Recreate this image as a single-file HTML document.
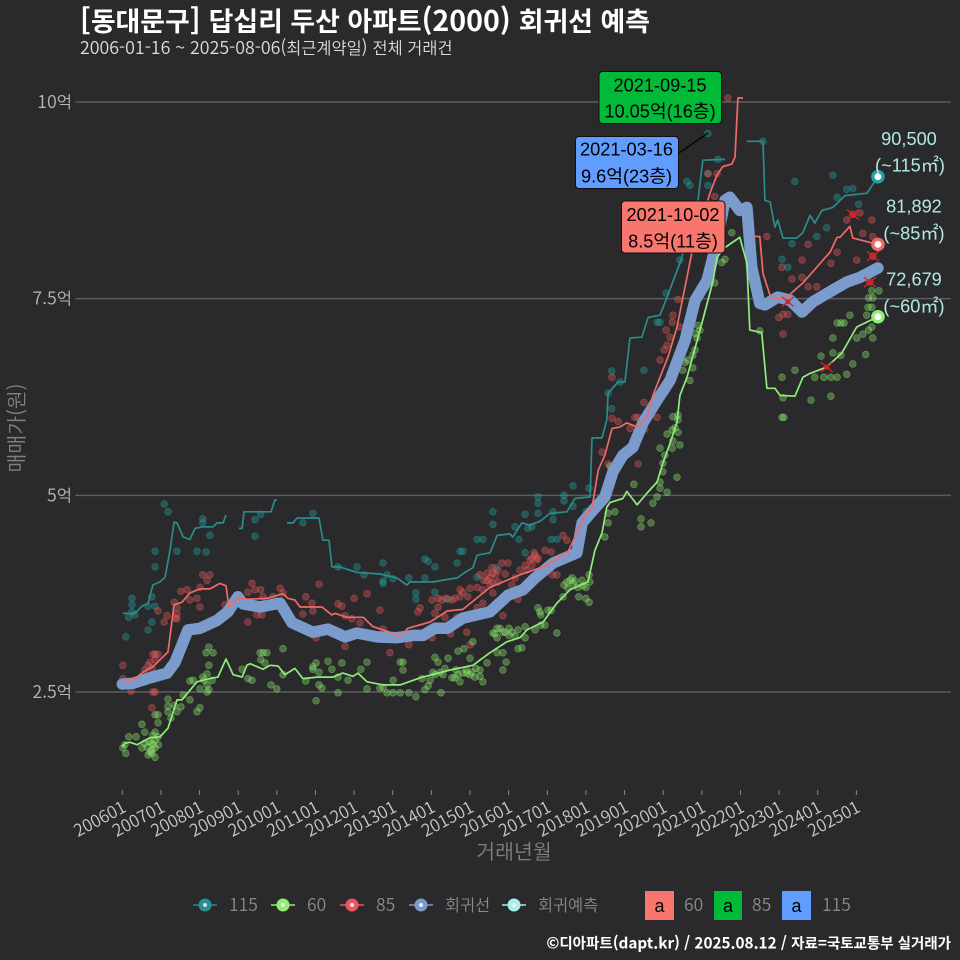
<!DOCTYPE html>
<html lang="ko">
<head>
<meta charset="utf-8">
<title>답십리 두산 아파트 회귀선 예측</title>
<style>
html,body{margin:0;padding:0;background:#2a2a2c;}
svg{display:block;}
text{font-family:"Noto Sans CJK KR","NanumGothic","Liberation Sans",sans-serif;}
.box-text{font-family:"Liberation Sans","Noto Sans CJK KR",sans-serif;font-size:18.2px;fill:#000;text-anchor:middle;}
.end-label{font-family:"Liberation Sans","Noto Sans CJK KR",sans-serif;font-size:18.2px;fill:#b2e8e2;text-anchor:middle;}
.legend-text{font-size:17.5px;fill:#8a8a8a;font-weight:350;}
.legend-hangul{font-size:16.4px;fill:#8a8a8a;font-weight:350;}
.a-glyph{font-family:"Liberation Sans",sans-serif;font-size:18px;fill:#000;text-anchor:middle;}
</style>
</head>
<body>
<svg id="chart" xmlns="http://www.w3.org/2000/svg" width="960" height="960" viewBox="0 0 960 960">
  <rect x="0" y="0" width="960" height="960" fill="#2a2a2c"/>
  <text x="80" y="31" font-size="28.6" font-weight="700" fill="#ffffff">[<tspan font-size="26.9">동대문구</tspan>] <tspan font-size="26.9">답십리 두산 아파트</tspan>(2000) <tspan font-size="26.9">회귀선 예측</tspan></text>
  <text x="80" y="54" font-size="17.8" font-weight="350" fill="#dddddd">2006-01-16 ~ 2025-08-06(<tspan font-size="16.4">최근계약일</tspan>) <tspan font-size="16.4">전체 거래건</tspan></text>
  <g id="grid"></g>
  <g id="xaxis"></g>
  <g id="yaxis"></g>
  <g id="points"></g>
  <g id="lines"></g>
  <g id="marks"></g>
  <text transform="translate(24,428) rotate(-90)" text-anchor="middle" font-size="20.5" font-weight="350" fill="#808080">매매가(원)</text>
  <text x="514" y="859" text-anchor="middle" font-size="20.5" font-weight="350" fill="#808080">거래년월</text>

  <g>
    <line id="leader" x1="679" y1="153" x2="708" y2="133" stroke="#000" stroke-width="1.3"/>
    <rect x="575.5" y="136.5" width="103" height="52" rx="3.5" fill="#619cff" stroke="#111" stroke-width="1"/>
    <text class="box-text" x="626.5" y="155.5">2021-03-16</text>
    <text class="box-text" x="626.5" y="182.5">9.6억(23층)</text>
  </g>
  <g>
    <rect x="599" y="71.5" width="122.5" height="52" rx="3.5" fill="#00ba38" stroke="#111" stroke-width="1"/>
    <text class="box-text" x="660" y="91.5">2021-09-15</text>
    <text class="box-text" x="660" y="117.5">10.05억(16층)</text>
  </g>
  <g>
    <rect x="621.5" y="201" width="103.5" height="52" rx="3.5" fill="#f8766d" stroke="#111" stroke-width="1"/>
    <text class="box-text" x="673" y="221">2021-10-02</text>
    <text class="box-text" x="673" y="247.5">8.5억(11층)</text>
  </g>

  <text class="end-label" x="909" y="145">90,500</text>
  <text class="end-label" x="910" y="171.5">(~115㎡)</text>
  <text class="end-label" x="914" y="212.5">81,892</text>
  <text class="end-label" x="914" y="239.5">(~85㎡)</text>
  <text class="end-label" x="914" y="285.5">72,679</text>
  <text class="end-label" x="914" y="312.5">(~60㎡)</text>

  <g id="legend">
    <g>
      <line x1="193" y1="905" x2="217" y2="905" stroke="#2a8a8a" stroke-width="1.5"/><circle cx="205" cy="905" r="6.5" fill="#2a8f8f"/><circle cx="205" cy="905" r="2" fill="#ddd"/>
      <text class="legend-text" x="229" y="911">115</text>
    </g>
    <g>
      <line x1="271" y1="905" x2="295" y2="905" stroke="#90ee70" stroke-width="1.5"/><circle cx="283" cy="905" r="6.5" fill="#90ee70"/><circle cx="283" cy="905" r="2" fill="#eee"/>
      <text class="legend-text" x="307" y="911">60</text>
    </g>
    <g>
      <line x1="340" y1="905" x2="364" y2="905" stroke="#ee5560" stroke-width="1.5"/><circle cx="352" cy="905" r="6.5" fill="#ee5560"/><circle cx="352" cy="905" r="2" fill="#eee"/>
      <text class="legend-text" x="376" y="911">85</text>
    </g>
    <g>
      <line x1="409" y1="905" x2="433" y2="905" stroke="#7a9bcc" stroke-width="1.5"/><circle cx="421" cy="905" r="6.5" fill="#7a9bcc"/><circle cx="421" cy="905" r="2" fill="#eee"/>
      <text class="legend-hangul" x="445" y="911">회귀선</text>
    </g>
    <g>
      <line x1="502" y1="905" x2="526" y2="905" stroke="#aaf0ea" stroke-width="1.5"/><circle cx="514" cy="905" r="6.5" fill="#aaf0ea"/><circle cx="514" cy="905" r="2" fill="#eee"/>
      <text class="legend-hangul" x="538" y="911">회귀예측</text>
    </g>
    <g>
      <rect x="645" y="891" width="29" height="29" fill="#f8766d"/>
      <text class="a-glyph" x="659.5" y="912">a</text>
      <text class="legend-text" x="684" y="911">60</text>
    </g>
    <g>
      <rect x="714" y="891" width="28" height="29" fill="#00ba38"/>
      <text class="a-glyph" x="728" y="912">a</text>
      <text class="legend-text" x="752" y="911">85</text>
    </g>
    <g>
      <rect x="782" y="891" width="29" height="29" fill="#619cff"/>
      <text class="a-glyph" x="796.5" y="912">a</text>
      <text class="legend-text" x="822" y="911">115</text>
    </g>
  </g>
  <text x="951" y="948.3" text-anchor="end" font-size="15.3" font-weight="700" fill="#ffffff">©<tspan font-size="14.5">디아파트</tspan>(dapt.kr) / 2025.08.12 / <tspan font-size="14.5">자료</tspan>=<tspan font-size="14.5">국토교통부 실거래가</tspan></text>
</svg>
<script>
// tick data
const xTickLabels = ["200601","200701","200801","200901","201001","201101","201201","201301","201401","201501","201601","201701","201801","201901","202001","202101","202201","202301","202401","202501"];
const yTickValues = [2.5,5,7.5,10];
const yTickLabels = ["2.5억","5억","7.5억","10억"];

// regression line (month offset from 200601, price in 억)
const regressionMonths = [0,3.3,8.6,13.9,16.4,20.4,24.1,29.4,32.8,35.9,37.5,42.8,49,52.7,59.2,63.9,69.2,72.9,79.1,85.3,90.3,93.4,97.1,100.9,105.8,114.2,119.8,124.5,128.2,133.8,141.2,142.8,146.2,149.9,152.4,155.5,158.6,161.7,166.1,170.1,174.8,177.9,181.6,183.5,185.6,187.2,188.7,191.8,194,195.5,198,199.6,203.6,207.4,211.1,214.5,220.7,225,229.1,234.7];
const regressionValues = [2.60,2.61,2.68,2.74,2.88,3.29,3.31,3.41,3.52,3.71,3.62,3.58,3.63,3.38,3.26,3.30,3.20,3.25,3.20,3.19,3.22,3.22,3.31,3.31,3.44,3.52,3.73,3.80,3.95,4.14,4.27,4.65,4.81,4.98,5.30,5.51,5.61,5.92,6.21,6.46,6.97,7.48,7.73,8.03,8.43,8.75,8.79,8.62,8.66,7.90,7.44,7.42,7.52,7.48,7.33,7.46,7.61,7.71,7.77,7.89];

// 115㎡ series (null = gap)
const line115Months = [0.2,3.9,6.1,8,9.5,11.7,13.3,14.8,16.1,17,18.9,21,22.6,24.8,28.2,29.4,31.3,32.2,null,36.2,37.2,37.8,46.2,47.4,48,null,51.2,53,54.3,61.1,62.3,64.2,65.1,67.6,72.9,80,85.3,88.4,89.4,96.5,104,106.4,108.9,110.2,114.2,116.4,120.4,121.3,124.1,126.6,129.7,132.8,138.1,140.6,145.3,145.9,149,150.5,150.9,154,156.1,157.7,161.4,163.3,167,169.2,173.2,175.4,178.8,180.3,187.2,null,194,199,199.6,201.2,202.7,203.6,205.2,209.5,211.4,213.6,215.1,217.3,220.7,224.5,231.3,234.7];
const line115Values = [3.50,3.50,3.59,3.63,3.86,3.90,3.96,4.30,4.66,4.65,4.47,4.44,4.58,4.60,4.60,4.65,4.65,4.75,null,4.58,4.58,4.79,4.79,4.94,4.94,null,4.65,4.65,4.71,4.71,4.43,4.43,4.09,4.09,4.02,4.00,3.95,3.86,3.90,3.90,3.95,4.02,4.08,4.24,4.27,4.49,4.51,4.47,4.65,4.62,4.67,4.77,4.79,4.96,4.98,5.73,5.73,5.96,6.30,6.44,6.44,7.00,7.01,7.26,7.29,7.52,7.95,8.24,8.75,9.26,9.27,null,9.50,9.50,8.75,8.73,8.41,8.50,8.27,8.27,8.34,8.56,8.46,8.62,8.66,8.81,8.84,9.05];

// 85㎡ series
const line85Months = [0.2,3.3,6.4,9.5,14.2,16.1,18.5,21,24.1,27.2,30.3,32.2,33.1,35.6,38.7,44.9,49.9,51.5,53.6,55.2,62,65.1,66.1,69.8,74.8,77.9,81,83.1,86.3,88.7,95.6,100.9,105.8,114.2,123.5,131.9,138.4,141.2,143.7,145.9,147.8,149.9,152.1,154.6,156.7,159.9,163,164.8,169.5,172.3,176.9,182.5,184.7,186.5,189.3,190.3,191.2,192.8,null,195.9,198,199,201.2,202.1,206.4,211.4,219.8,222,222.9,226,226.9,234.7];
const line85Values = [2.65,2.65,2.75,2.82,3.01,3.61,3.64,3.76,3.81,3.81,3.88,3.85,3.58,3.69,3.68,3.69,3.75,3.69,3.67,3.58,3.58,3.48,3.50,3.45,3.45,3.33,3.29,3.26,3.20,3.31,3.39,3.53,3.55,3.83,3.99,4.11,4.28,4.52,4.75,4.84,5.32,5.51,5.85,5.87,5.92,5.87,5.99,6.27,6.76,7.14,8.08,8.84,9.07,9.18,9.21,9.30,10.05,10.05,null,8.29,8.29,7.82,7.54,7.49,7.52,7.70,8.09,8.28,8.28,8.42,8.27,8.19];

// 60㎡ series
const line60Months = [0,0.8,2.4,4.6,8.6,11.7,14.2,17,18.5,23.2,27.2,29.7,32.2,34.4,37.2,38.7,39.7,43.7,45.9,48.4,50.5,53.6,56.1,60.5,65.4,68.5,71.7,73.2,76,81,86.3,92.5,101.8,108.9,114.2,119.5,123.5,125.7,130.7,135,139.1,144.6,146.8,149,150.5,151.5,155.5,156.7,159.9,163,166.1,167.9,170.1,172.3,173.2,175.4,180.3,183.5,184.7,187.2,191.8,194,194.9,198.6,200.2,202.7,204.3,208.9,211.4,213.6,218.8,223.5,228.1,234.7];
const line60Values = [1.80,1.85,1.86,1.83,1.92,1.93,2.04,2.40,2.40,2.63,2.67,2.69,2.92,2.72,2.69,2.84,2.86,2.79,2.84,2.83,2.72,2.80,2.67,2.69,2.69,2.74,2.70,2.74,2.63,2.59,2.59,2.68,2.78,2.84,3.00,3.14,3.19,3.29,3.39,3.63,3.80,3.90,4.30,4.52,4.85,4.91,4.96,5.05,4.88,5.03,5.17,5.41,5.66,5.93,6.27,6.50,7.23,7.73,8.03,8.15,8.28,7.95,7.10,7.07,6.36,6.36,6.27,6.26,6.50,6.55,6.63,6.81,7.14,7.27];

// individual deals
const deals115Months = [13,14.2,25,25,43,41.2,59.2,56.1,27.2,41.2,10.2,17,23.2,26,10.2,3,3,3,9.2,8,10.2,2,3.9,9.2,8,1.1,67,72.9,75.1,81,82.2,81,84.1,81,89,94,91.2,91.2,94,95,97.1,97.1,101.2,104,104.9,105.8,110.2,112,115.1,115.1,116,110.2,122,123.2,125.1,126,127.2,125.1,129.1,129.1,129.1,133.2,135,133.8,133.8,137.2,137.2,140,140,145,144,152,152,150.9,181.9,175.4,181.9,181.9,185,199,208.9,220.7,225,226.9,222,228.7,218.8,215.7,208,204.9,206.7,168.9,167,173.2,166.1,162,154.6,179.4,176.3];
const deals115Values = [4.89,4.79,4.70,4.65,4.76,4.69,4.77,4.65,4.49,4.48,4.29,4.29,4.29,4.28,4.09,3.69,3.61,3.52,3.71,3.59,3.59,3.45,3.48,3.39,3.29,3.20,4.09,4.09,3.99,4.14,3.99,3.88,3.94,3.91,3.95,3.95,3.76,3.68,4.19,4.16,4.09,3.77,3.68,4.14,4.29,4.29,4.44,4.44,4.79,4.63,4.08,3.96,4.60,4.44,4.76,4.58,4.60,4.27,4.98,4.90,4.77,4.44,4.44,4.79,4.69,5.00,4.93,5.12,4.86,5.09,4.79,6.10,6.58,6.30,9.09,8.99,8.94,9.60,9.27,9.50,8.99,9.07,8.89,8.90,8.79,8.70,8.40,8.29,8.20,8.00,7.90,7.57,7.20,7.99,7.20,6.59,6.44,8.56,8.94];

const deals85Months = [0.2,0.2,9.5,10.2,8.6,9.2,7,9.5,10.2,9.2,2.7,11.1,13,13.9,17,17,16.1,18.2,20.1,21,23.2,24.1,24.1,25,26.3,27.2,31.9,39,40.3,41.2,39,43,43.7,41.8,43.4,49,46.8,49.9,56.1,57,58.9,59.2,61.1,67,68.2,72,76,80,69.2,73.8,71.3,81,60.2,69.2,83.1,89,96.2,92.5,91.8,96.2,98.1,98.1,97.1,102.4,104.9,105.8,108,110.2,111.1,113.3,115.1,114.2,116.7,118.9,117.9,119.8,122,125.1,125.7,128.2,128.8,127.2,133.2,136.9,138.1,135,133.5,107,102,108,118.2,122.9,112,115.1,100.2,104,110.2,149,150.9,160.2,152.1,154,157.7,159.2,160.2,162.3,166.1,162,152.1,168.9,170.1,169.2,171,173.2,188.1,181.9,184.7,184,200.2,205.2,204.9,208,211.1,213,211.1,213,215.7,220.1,222,203.9,206.7,205.2,228.1,230,232.8,233.1,225,229.1,226.9,233.1,232.2,112.3,113.3,114.2,115.1,116,112,116.7,114.8,126.6,127.9,129.1,127.2,104.9,103.3,100.5,99.3,107.3,121,123.5,131.3,17,16.4,10.2,11.1,8,167,168.3,170.8,172.6];
const deals85Values = [2.84,2.67,2.98,2.98,2.88,2.80,2.78,2.50,2.50,2.30,2.51,3.53,3.39,3.47,3.49,3.43,3.64,3.78,3.80,3.67,3.69,3.58,3.83,3.99,3.92,3.99,3.61,3.39,3.88,3.80,3.77,3.80,3.71,3.48,3.48,3.82,3.71,3.76,3.49,3.71,3.63,3.53,3.87,3.62,3.59,3.69,3.75,3.54,3.47,3.38,3.43,3.30,3.19,3.08,3.00,3.10,3.19,3.57,3.52,3.67,3.69,3.58,3.50,3.67,3.71,3.77,3.82,3.83,3.99,3.92,4.01,3.86,3.90,4.00,4.14,4.14,3.95,4.11,4.05,4.24,4.18,4.20,4.28,4.49,4.43,3.99,3.99,3.26,3.24,3.10,3.47,3.68,3.63,3.76,3.45,3.45,3.57,5.55,5.40,5.40,5.98,5.94,5.85,5.99,5.99,5.84,5.99,6.18,6.50,7.10,7.01,6.91,7.29,7.14,10.05,9.09,9.09,8.80,8.29,7.05,7.90,7.75,7.99,8.19,7.77,7.65,7.65,7.95,8.09,7.26,7.30,7.30,7.99,8.33,8.50,8.29,8.50,8.59,8.57,8.04,7.71,3.92,4.01,3.95,3.89,3.99,3.80,4.05,4.08,4.18,4.27,4.20,4.11,3.80,3.69,3.69,3.67,3.71,3.86,4.05,4.30,3.57,3.44,2.91,2.98,2.84,6.72,6.85,7.20,7.49];

const deals60Months = [0.2,0.8,1.1,2,4.3,6.1,6.1,7,7,7.7,8,9.2,10.2,10.2,9.2,9.5,11.1,10.2,10.2,11.1,11.1,14.2,14.2,14.2,15.1,16.1,17,18.2,18.9,21,23.2,24.1,21,22,24.1,26.3,26.3,25,26.3,26.9,26,28.2,26.9,37.2,39,40.3,42.8,43.7,44.9,43,44.3,49.9,49.9,46.2,48,57,59.2,60.2,59.2,61.1,60.2,61.1,62,63.9,65.1,68.2,67,70.1,67,74.1,76,76,80,81,82.2,84.1,84.1,86.3,86.3,89,91.2,99,95,93.1,97.1,99.6,103.3,104.3,107,109.5,112,111.1,113.3,97.1,98.1,101.2,104.3,106.1,108,108.9,87.2,87.2,116.4,118.2,119.2,118.2,122.9,115.1,116.4,118.2,120.1,120.1,122.9,125.1,125.1,128.2,130,129.1,130,132.2,133.2,135,136.9,138.1,139.1,140,142.8,141.8,144,145,144,145,149.9,150.9,150.9,153,161.1,161.1,164.2,158.9,164.8,166.1,167,169.2,167,167.9,172.3,167.9,167,169.2,171,171,151.5,174.8,174.1,177.2,177.9,178.8,184,186.2,187.2,189.3,198,204.9,204.9,205.5,208.9,213.9,220.1,217,215.1,217.9,220.1,222,220.7,223.2,225,226.9,220.7,222,223.2,224.2,226,228.1,230,230.9,231.8,233.1,231.2,232.8,231.6,231.8,233.1,232.8,235,205.2,232.8,8.3,9.2,10.2,11.2,8.6,9.5,25.4,26.9,27.9,115.7,117.3,118.9,121,116.4,122,105.8,106.9,108,108.6,109.8,111.1,103.6,104.9,102.4,137.2,138.4,139.7,140.6,141.5,143.1,145.2,98.7,96.5,94,95.6,100.2,124.1,129.7,131.3,170.8,171.7,172.6,168.5,170.8,172.6,173.2,172.6,177.9,178.5,179.4,177.2,176.3,175.7];
const deals60Values = [1.79,1.83,1.72,1.93,1.93,2.09,1.79,1.99,1.85,1.80,1.70,1.72,1.67,1.99,1.85,1.83,1.93,1.89,2.21,2.21,2.11,2.41,2.32,2.25,2.17,2.33,2.25,2.31,2.46,2.40,2.25,2.30,2.64,2.65,2.54,2.50,2.59,2.69,2.73,2.84,3.00,3.00,3.07,2.79,2.67,2.65,3.00,3.00,3.00,2.91,2.87,3.05,2.72,2.59,2.54,2.64,2.82,2.87,2.79,2.75,2.39,2.59,2.55,2.89,2.79,2.87,2.69,2.65,2.49,2.79,2.88,2.54,2.55,2.56,2.49,2.49,2.65,2.49,2.88,2.49,2.44,2.49,2.58,2.67,2.72,2.72,2.68,2.72,2.74,2.69,2.63,2.78,2.87,2.94,2.88,2.93,3.02,3.05,2.93,3.14,2.88,2.78,3.00,3.00,2.88,2.78,3.05,3.25,3.19,3.26,3.31,3.22,3.29,3.33,3.19,3.29,3.35,3.57,3.48,3.54,3.54,3.25,3.71,3.90,3.92,3.88,3.92,3.71,3.69,3.64,3.83,3.99,4.47,4.65,4.77,4.79,4.70,4.60,4.65,5.14,4.90,4.98,5.09,5.04,5.17,5.30,5.23,5.41,5.60,5.78,5.69,6.00,5.37,6.69,6.59,6.78,7.06,7.16,7.70,7.96,8.00,8.34,7.09,6.50,5.99,5.99,6.59,6.21,6.26,6.77,6.50,6.50,6.50,6.50,6.81,6.78,6.54,6.67,7.00,7.19,7.19,7.19,7.29,7.00,7.05,6.79,7.10,7.00,7.29,7.39,7.39,7.51,7.51,7.60,7.60,6.24,7.14,1.87,1.76,1.79,1.83,1.74,1.95,2.65,2.53,2.65,3.24,3.31,3.26,3.26,3.31,3.21,2.74,2.78,2.72,2.75,2.80,2.70,2.78,2.63,2.68,3.86,3.82,3.95,3.91,3.83,3.85,3.90,2.75,2.75,2.53,2.65,2.80,3.06,3.52,3.35,5.83,5.86,5.96,5.51,5.60,5.80,5.64,6.02,6.85,7.00,7.10,6.62,6.46,6.72];

// deals flagged with a red cross
const flaggedMonths = [226.9,233.1,232.2,206.7,218.8];
const flaggedValues = [8.57,8.04,7.71,7.46,6.63];

const NS = "http://www.w3.org/2000/svg";
function xScale(m){ return 122.3 + m * 3.2196; }
function yScale(v){ return 692 - (v - 2.5) * 78.67; }
function make(parent, tag, attrs){
  const el = document.createElementNS(NS, tag);
  for (const k in attrs) el.setAttribute(k, attrs[k]);
  parent.appendChild(el);
  return el;
}
function linePath(months, values){
  let d = "", pen = false;
  for (let i = 0; i < months.length; i++){
    if (months[i] === null || values[i] === null){ pen = false; continue; }
    d += (pen ? "L" : "M") + xScale(months[i]).toFixed(1) + " " + yScale(values[i]).toFixed(1);
    pen = true;
  }
  return d;
}

const gridG = document.getElementById("grid");
const yAxisG = document.getElementById("yaxis");
const xAxisG = document.getElementById("xaxis");
yTickValues.forEach(function(v, i){
  const g = make(gridG, "line", {x1:79, x2:951, y1:yScale(v), y2:yScale(v), stroke:"#5c5c5c", "stroke-width":1.5});
  
  
  const t = make(yAxisG, "line", {x1:75.5, x2:79, y1:yScale(v), y2:yScale(v), stroke:"#777", "stroke-width":1});
  
  
  const lab = make(yAxisG, "text", {x:72, y:yScale(v)+6, "text-anchor":"end", "font-size":17.7, "font-weight":350, fill:"#b8b8b8"});
  lab.innerHTML = yTickLabels[i].replace("억", '<tspan font-size="16.6">억</tspan>');
  
  
});
xTickLabels.forEach(function(label, i){
  const year = parseInt(label.slice(0,4), 10);
  const x = xScale((year - 2006) * 12);
  const t = make(xAxisG, "line", {x1:x, x2:x, y1:790, y2:795, stroke:"#888", "stroke-width":1});
  
  
  const lab = make(xAxisG, "text", {transform:"translate("+(x+5)+",811) rotate(-28)", "text-anchor":"end", "font-size":17, "font-weight":350, fill:"#c8c8c8"});
  lab.textContent = label;
  
  
});

const pointsG = document.getElementById("points");
function drawDeals(months, values, color, name){
  months.forEach(function(m, i){
    const c = make(pointsG, "circle", {cx:xScale(m).toFixed(1), cy:yScale(values[i]).toFixed(1), r:3.4, fill:color, "fill-opacity":0.36, stroke:color, "stroke-opacity":0.42, "stroke-width":0.7});
    
    
  });
}
drawDeals(deals115Months, deals115Values, "#24a8a4", "deal-point-115");
drawDeals(deals85Months, deals85Values, "#f25c5c", "deal-point-85");
drawDeals(deals60Months, deals60Values, "#90ee70", "deal-point-60");

const linesG = document.getElementById("lines");
const reg = make(linesG, "path", {d:linePath(regressionMonths, regressionValues), fill:"none", stroke:"#7a9bcc", "stroke-width":11.5, "stroke-linejoin":"round", "stroke-linecap":"round"});


const l115 = make(linesG, "path", {d:linePath(line115Months, line115Values), fill:"none", stroke:"#2a8c8c", "stroke-width":1.7, "stroke-linejoin":"round"});


const l85 = make(linesG, "path", {d:linePath(line85Months, line85Values), fill:"none", stroke:"#f06a6a", "stroke-width":1.7, "stroke-linejoin":"round"});


const l60 = make(linesG, "path", {d:linePath(line60Months, line60Values), fill:"none", stroke:"#90ee78", "stroke-width":1.7, "stroke-linejoin":"round"});



const marksG = document.getElementById("marks");
flaggedMonths.forEach(function(m, i){
  const x = xScale(m), y = yScale(flaggedValues[i]);
  const a = make(marksG, "line", {x1:x-6, y1:y-5, x2:x+6, y2:y+5, stroke:"#e02020", "stroke-width":1.3});
  
  
  const b = make(marksG, "line", {x1:x-6, y1:y+5, x2:x+6, y2:y-5, stroke:"#e02020", "stroke-width":1.3});
  
  
  const d = make(marksG, "circle", {cx:x, cy:y, r:2.5, fill:"#d82020"});
  
  
});
function endDot(months, values, color, name){
  const m = months[months.length-1], v = values[values.length-1];
  const ring = make(marksG, "circle", {cx:xScale(m), cy:yScale(v), r:6.8, fill:color});
  
  
  const core = make(marksG, "circle", {cx:xScale(m), cy:yScale(v), r:3.4, fill:"#ffffff"});
  
  
}
endDot(line115Months, line115Values, "#26a0a0", "end-dot-115");
endDot(line85Months, line85Values, "#f06a6a", "end-dot-85");
endDot(line60Months, line60Values, "#90ee78", "end-dot-60");
</script>
</body>
</html>
